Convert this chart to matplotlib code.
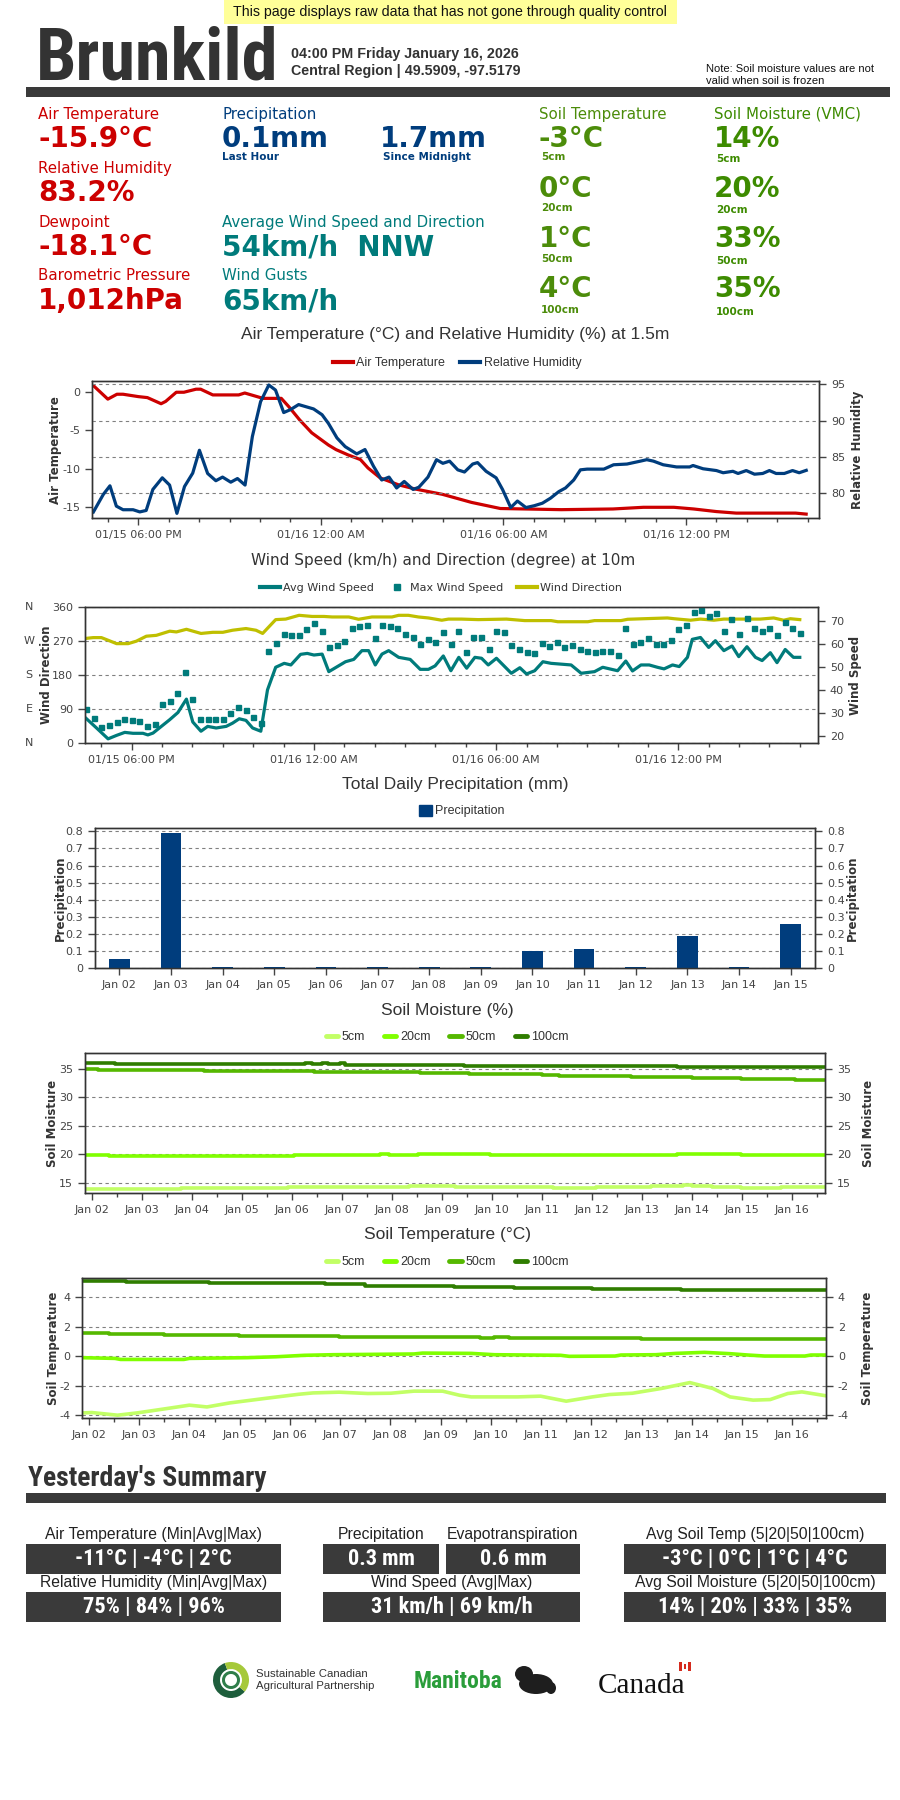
import numpy as np
import matplotlib
matplotlib.use("Agg")
import matplotlib.pyplot as plt
from matplotlib import font_manager
from matplotlib.lines import Line2D
from matplotlib.patches import Rectangle, Wedge, Ellipse, Patch

# ---------------- station readings (top panel) ----------------
station = "Brunkild"
stamp = "04:00 PM Friday January 16, 2026"
region = "Central Region | 49.5909, -97.5179"
banner = "This page displays raw data that has not gone through quality control"
note = "Note: Soil moisture values are not\nvalid when soil is frozen"

air_labels = ["Air Temperature", "Relative Humidity", "Dewpoint", "Barometric Pressure"]
air_values = ["-15.9°C", "83.2%", "-18.1°C", "1,012hPa"]
precip_now = ["0.1mm", "1.7mm"]
precip_now_labels = ["Last Hour", "Since Midnight"]
wind_labels = ["Average Wind Speed and Direction", "Wind Gusts"]
wind_values = ["54km/h  NNW", "65km/h"]
depths = ["5cm", "20cm", "50cm", "100cm"]
soil_temp_now = ["-3°C", "0°C", "1°C", "4°C"]
soil_moist_now = ["14%", "20%", "33%", "35%"]

# ---------------- 24h series (hours since Jan 15 00:00) ----------------
time_ticks = [18, 24, 30, 36]
time_labels = ["01/15 06:00 PM", "01/16 12:00 AM", "01/16 06:00 AM", "01/16 12:00 PM"]

temp_t = [16.5, 17.0, 17.3, 17.5, 18.0, 18.3, 18.75, 18.9, 19.25, 19.5, 19.9, 20.05, 20.45,
          21.3, 21.5, 22.1, 22.7, 22.95, 23.3, 23.7, 24.25, 24.5, 24.9, 25.3, 25.55, 25.95,
          26.55, 27.1, 27.55, 28.0, 28.95, 29.9, 31.9, 33.6, 34.6, 35.6, 36.25, 37.0, 37.65,
          39.6, 40.0]
temp_v = [0.96, -0.9, -0.26, -0.26, -0.57, -0.7, -1.5, -1.2, 0.0, 0.0, 0.4, 0.4, -0.35,
          -0.35, -0.1, -0.8, -0.8, -1.9, -3.6, -5.3, -6.9, -7.5, -8.2, -8.8, -9.9, -11.2,
          -12.1, -12.65, -13.0, -13.35, -14.4, -15.2, -15.35, -15.26, -15.04, -15.04, -15.26,
          -15.6, -15.8, -15.8, -15.95]

rh_t = [16.5, 16.85, 17.07, 17.28, 17.5, 17.83, 18.05, 18.26, 18.48, 18.79, 19.03, 19.27,
        19.52, 19.79, 20.01, 20.28, 20.55, 20.77, 21.04, 21.26, 21.51, 21.75, 22.02, 22.29,
        22.51, 22.78, 23.0, 23.27, 23.76, 24.04, 24.25, 24.53, 24.8, 25.18, 25.45, 25.73,
        26.0, 26.24, 26.49, 26.74, 27.03, 27.22, 27.52, 27.8, 28.01, 28.23, 28.5, 28.72,
        28.99, 29.15, 29.43, 29.76, 29.97, 30.24, 30.46, 30.74, 31.01, 31.28, 31.55, 31.82,
        32.04, 32.31, 32.53, 32.75, 33.3, 33.62, 34.06, 34.5, 34.71, 34.93, 35.25, 35.69,
        36.12, 36.23, 36.56, 37.0, 37.22, 37.54, 37.71, 37.98, 38.25, 38.52, 38.74, 38.96,
        39.23, 39.5, 39.72, 40.0]
rh_v = [77.2, 79.8, 81.0, 78.2, 77.7, 77.7, 77.4, 77.6, 80.5, 82.1, 81.1, 77.2,
        80.9, 82.75, 85.9, 82.7, 81.7, 82.2, 81.5, 82.0, 81.1, 87.8, 92.6, 94.9,
        94.2, 91.1, 91.5, 92.2, 91.6, 90.8, 89.6, 87.6, 86.4, 85.4, 86.0, 83.7,
        81.8, 82.2, 80.7, 81.6, 80.5, 80.8, 82.2, 84.6, 84.1, 84.4, 83.2, 82.9,
        84.0, 84.2, 83.0, 82.1, 80.5, 78.0, 78.9, 78.0, 78.25, 78.6, 79.3, 80.2,
        80.7, 81.8, 83.2, 83.3, 83.3, 83.9, 84.0, 84.4, 84.6, 84.4, 83.9, 83.6,
        83.6, 83.8, 83.35, 83.1, 82.8, 83.0, 82.7, 83.1, 82.6, 82.7, 83.1, 82.7,
        82.7, 83.1, 82.8, 83.2]

wdir_t = [16.46, 16.73, 17.0, 17.22, 17.5, 17.88, 18.15, 18.48, 18.81, 19.25, 19.47, 19.8,
          20.28, 20.67, 21.0, 21.32, 21.76, 22.09, 22.31, 22.74, 23.07, 23.51, 23.94, 24.33,
          24.6, 25.15, 25.47, 25.91, 26.57, 26.79, 27.11, 27.44, 27.77, 28.21, 28.43, 28.86,
          29.41, 30.34, 30.94, 31.81, 32.03, 33.02, 33.24, 34.11, 34.33, 34.88, 35.64, 35.86,
          36.4, 36.73, 37.17, 37.5, 38.7, 39.14, 39.47, 39.69, 40.0]
wdir_v = [276.6, 279, 279, 272, 263, 263, 269.5, 282.7, 285, 296, 294, 301,
          290, 293, 293, 298.5, 303, 298.5, 290, 326.6, 328, 338, 335, 335,
          333.6, 333.6, 327.5, 333.6, 333.6, 338, 338, 333.6, 331, 325, 328, 328,
          326.6, 328, 324, 324, 321, 321, 324, 324, 327.5, 329, 331, 329,
          325, 328, 325, 328, 328, 331, 325, 329, 326.6]

wavg_t = [16.46, 16.84, 17.22, 17.5, 17.77, 18.04, 18.37, 18.53, 18.7, 19.25, 19.52, 19.8,
          20.01, 20.28, 20.5, 20.78, 21.11, 21.32, 21.54, 21.76, 21.98, 22.25, 22.47, 22.74,
          23.02, 23.24, 23.56, 23.78, 24.0, 24.27, 24.49, 25.04, 25.31, 25.58, 25.8, 26.02,
          26.24, 26.46, 26.79, 27.17, 27.5, 27.77, 27.99, 28.26, 28.51, 28.77, 29.03, 29.3,
          29.52, 29.74, 30.01, 30.5, 30.78, 31.0, 31.27, 31.54, 31.81, 32.47, 32.8, 33.24,
          33.51, 34.0, 34.27, 34.49, 34.77, 35.04, 35.31, 35.53, 35.81, 36.03, 36.3, 36.46,
          36.73, 37.0, 37.22, 37.5, 37.77, 37.99, 38.26, 38.54, 38.76, 39.03, 39.25, 39.52,
          39.79, 40.0]
wavg_v = [28.2, 23.6, 18.9, 20.4, 21.7, 21.3, 21.3, 20.6, 21.4, 27.2, 30.3, 36.1,
          26.2, 22.2, 24.3, 23.6, 24.3, 25.7, 27.6, 26.9, 23.6, 22.2, 40.1, 49.9,
          51.6, 50.9, 55.5, 55.9, 55.2, 55.6, 48.0, 52.3, 53.3, 57.1, 57.1, 50.9,
          55.6, 57.1, 54.2, 53.3, 49.0, 49.0, 50.5, 54.8, 48.4, 54.2, 49.5, 54.2,
          53.8, 50.9, 53.8, 47.3, 49.7, 47.0, 48.4, 52.3, 51.6, 50.9, 47.3, 48.0,
          49.9, 48.4, 52.6, 48.3, 50.9, 50.9, 49.9, 49.2, 50.9, 50.2, 54.2, 62.0,
          62.8, 58.5, 61.4, 57.1, 59.1, 54.5, 58.8, 54.2, 52.8, 56.2, 51.9, 57.6,
          54.2, 54.2]

# max wind, one reading every 15 minutes from 16:30 Jan 15 to 16:00 Jan 16
wmax_t = list(np.arange(16.5, 40.01, 0.25))
wmax_v = [31.8, 27.9, 24.0, 24.7, 26.2, 27.5, 26.9, 26.6, 24.3, 25.3, 33.9, 35.1, 38.7,
          47.7, 36.1, 27.5, 27.5, 27.5, 27.5, 30.1, 32.6, 31.4, 28.3, 25.7, 56.9, 60.2,
          64.3, 63.7, 63.7, 66.3, 68.9, 65.8, 58.5, 59.4, 61.2, 67.1, 67.6, 68.4, 62.4,
          68.0, 67.6, 67.1, 64.5, 63.2, 59.8,
          62.0, 60.8, 65.1, 59.8, 65.5, 56.4, 62.8, 63.2, 57.6, 65.8,
          65.1, 59.4, 57.6, 56.4, 55.9, 60.2, 58.9, 60.7, 58.5, 59.4,
          57.6, 56.8, 56.4, 56.8, 56.8, 55.1, 66.7, 59.8, 60.7, 62.4,
          59.8, 59.8, 61.5, 66.3, 68.4, 74.0, 74.5, 72.3, 73.2, 65.8,
          70.6, 64.5, 71.4, 67.1, 65.8, 67.1, 63.7, 69.3, 66.7, 64.9]

# ---------------- daily precipitation ----------------
precip_days = ["Jan 02", "Jan 03", "Jan 04", "Jan 05", "Jan 06", "Jan 07", "Jan 08",
               "Jan 09", "Jan 10", "Jan 11", "Jan 12", "Jan 13", "Jan 14", "Jan 15"]
precip_mm = [0.053, 0.79, 0.006, 0.006, 0.006, 0.006, 0.006, 0.006, 0.10, 0.11, 0.006,
             0.185, 0.006, 0.256]

# ---------------- soil series (days since Jan 02 00:00) ----------------
soil_days = ["Jan 02", "Jan 03", "Jan 04", "Jan 05", "Jan 06", "Jan 07", "Jan 08", "Jan 09",
             "Jan 10", "Jan 11", "Jan 12", "Jan 13", "Jan 14", "Jan 15", "Jan 16"]

sm5_t = [-0.137, 1.79, 3.92, 6.34, 7.27, 9.23, 10.09, 11.19, 11.82, 12.0, 12.4, 12.98, 13.78, 14.67]
sm5_v = [13.95, 14.13, 14.3, 14.48, 14.3, 14.13, 14.3, 14.42, 14.6, 14.48, 14.3, 14.13, 14.3, 14.3]
sm20_t = [-0.137, 0.35, 4.04, 5.77, 5.94, 6.52, 7.96, 11.71, 12.98, 14.67]
sm20_v = [19.94, 19.77, 19.94, 20.12, 19.94, 20.12, 19.94, 20.12, 19.94, 19.94]
sm50_t = [-0.137, 0.12, 2.25, 4.44, 6.11, 6.57, 7.55, 9.0, 9.34, 10.78, 12.0, 12.98, 14.07, 14.67]
sm50_v = [35.0, 34.77, 34.59, 34.42, 34.36, 34.24, 34.07, 33.9, 33.72, 33.54, 33.37, 33.19, 33.02, 33.02]
sm100_t = [-0.137, 0.46, 4.27, 4.4, 4.6, 4.73, 4.96, 5.07, 7.44, 11.7, 14.67]
sm100_v = [36.0, 35.8, 35.95, 35.8, 35.95, 35.8, 35.95, 35.7, 35.5, 35.3, 35.3]

st5_t = [-0.08, 0.06, 0.57, 0.97, 1.55, 2.0, 2.35, 2.8, 3.49, 4.18, 4.46, 4.98, 5.55, 6.01,
         6.47, 7.04, 7.38, 7.61, 8.53, 8.99, 9.5, 10.02, 10.36, 10.82, 11.39, 11.96, 12.42,
         12.76, 13.22, 13.56, 13.91, 14.19, 14.68]
st5_v = [-3.85, -3.83, -4.01, -3.85, -3.56, -3.33, -3.45, -3.18, -2.88, -2.59, -2.5, -2.45,
         -2.54, -2.52, -2.38, -2.38, -2.66, -2.77, -2.77, -2.72, -3.06, -2.77, -2.61, -2.52,
         -2.2, -1.8, -2.2, -2.77, -2.99, -2.95, -2.54, -2.43, -2.7]
st20_t = [-0.14, 0.52, 0.63, 1.89, 2.0, 3.15, 3.72, 4.29, 4.86, 6.47, 6.64, 7.61, 8.07, 9.39,
          9.56, 10.47, 10.59, 11.28, 11.68, 12.25, 12.76, 13.11, 13.45, 14.25, 14.37, 14.68]
st20_v = [-0.11, -0.16, -0.23, -0.23, -0.16, -0.11, -0.05, 0.05, 0.09, 0.14, 0.2, 0.18, 0.09,
          0.05, -0.02, 0.0, 0.07, 0.09, 0.18, 0.25, 0.16, 0.07, 0.0, 0.0, 0.07, 0.07]
st50_t = [-0.137, 0.4, 1.49, 2.98, 3.95, 4.98, 7.78, 8.07, 8.36, 10.99, 14.68]
st50_v = [1.54, 1.47, 1.4, 1.36, 1.33, 1.29, 1.22, 1.29, 1.22, 1.15, 1.15]
st100_t = [-0.137, 0.74, 2.4, 3.95, 4.69, 5.49, 7.1, 7.27, 8.47, 10.02, 11.79, 14.68]
st100_v = [5.11, 5.04, 4.97, 4.93, 4.86, 4.77, 4.72, 4.7, 4.63, 4.56, 4.5, 4.5]

# ---------------- yesterday's summary ----------------
summary_labels = ["Air Temperature (Min|Avg|Max)", "Precipitation", "Evapotranspiration",
                  "Avg Soil Temp (5|20|50|100cm)", "Relative Humidity (Min|Avg|Max)",
                  "Wind Speed (Avg|Max)", "Avg Soil Moisture (5|20|50|100cm)"]
summary_values = ["-11°C | -4°C | 2°C", "0.3 mm", "0.6 mm", "-3°C | 0°C | 1°C | 4°C",
                  "75% | 84% | 96%", "31 km/h | 69 km/h", "14% | 20% | 33% | 35%"]

# ---------------- fonts / colours ----------------
have = {f.name for f in font_manager.fontManager.ttflist}


def pick(*names):
    for n in names:
        if n in have:
            return n
    return "DejaVu Sans"


NARROW = pick("Liberation Sans Narrow", "Roboto Condensed", "DejaVu Sans Condensed", "Liberation Sans")
SANS = pick("Liberation Sans", "Arimo", "DejaVu Sans")
VERD = "DejaVu Sans"
SERIF = pick("Liberation Serif", "DejaVu Serif")

plt.rcParams["font.family"] = [VERD]
plt.rcParams["axes.unicode_minus"] = False

RED = "#cc0000"
NAVY = "#003d7d"
TEAL = "#007b7b"
GREEN_T = "#4c8c0a"
GREEN_M = "#3d8b00"
DARK = "#3a3a3a"
YEL = "#bfbf00"
SOIL_COLS = ["#c2ff66", "#80ff00", "#55b800", "#2f7d00"]
GRID = dict(color="#808080", ls=(0, (3, 3)), lw=0.8)

W, H = 900, 1800
fig = plt.figure(figsize=(W / 100, H / 100), dpi=100)

# background layer in pixel units for the page furniture
bg = fig.add_axes([0, 0, 1, 1])
bg.set_xlim(0, W)
bg.set_ylim(H, 0)
bg.axis("off")


def box(x0, y0, x1, y1, color):
    bg.add_patch(Rectangle((x0, y0), x1 - x0, y1 - y0, color=color, lw=0))


def axes_px(left, top, right, bottom):
    return fig.add_axes([left / W, 1 - bottom / H, (right - left) / W, (bottom - top) / H])


def dress(ax, size=8):
    for sp in ax.spines.values():
        sp.set_color("#333333")
        sp.set_linewidth(1.0)
    ax.tick_params(which="both", direction="out", colors="#444444", labelsize=size, width=1)
    ax.tick_params(which="major", length=5)
    ax.tick_params(which="minor", length=3)


def ylab(x, y, s):
    bg.text(x, y, s, rotation=90, ha="center", va="center", fontsize=8.5,
            fontweight="bold", color="#333333", family=VERD)


# ---------------- header ----------------
box(224, 0, 677, 24, "#ffff99")
bg.text(450, 12, banner, ha="center", va="center", fontsize=10.2, family=SANS, color="#111111")
bg.text(36, 79, station, fontsize=52, fontweight="bold", family=NARROW, color="#333333",
        va="baseline")
bg.text(291, 54, stamp, fontsize=10.3, fontweight="bold", family=SANS, color="#333333", va="center")
bg.text(291, 71, region, fontsize=10.3, fontweight="bold", family=SANS, color="#333333", va="center")
bg.text(706, 75, note, fontsize=8, family=SANS, color="#111111", va="center", linespacing=1.25)
box(26, 87, 890, 97, DARK)

# ---------------- current readings ----------------
lab_kw = dict(fontsize=10.8, family=VERD, va="center")
val_kw = dict(fontsize=20, family=VERD, fontweight="bold", va="center")
sub_kw = dict(fontsize=7.5, family=VERD, fontweight="bold", va="center")

for i, (lab, val) in enumerate(zip(air_labels, air_values)):
    bg.text(38, 114 + 54 * i, lab, color=RED, **lab_kw)
    bg.text(38, 139 + 54 * i, val, color=RED, **val_kw)

bg.text(222, 114, "Precipitation", color=NAVY, **lab_kw)
for x, val, lab in zip([222, 380], precip_now, precip_now_labels):
    bg.text(x, 139, val, color=NAVY, **val_kw)
    bg.text(x + (0 if x == 222 else 3), 157, lab, color=NAVY, **sub_kw)
for i, (lab, val) in enumerate(zip(wind_labels, wind_values)):
    bg.text(222, 222 + 54 * i, lab, color=TEAL, **lab_kw)
    bg.text(222, 247 + 55 * i, val, color=TEAL, **val_kw)

bg.text(539, 114, "Soil Temperature", color=GREEN_T, **lab_kw)
bg.text(714, 114, "Soil Moisture (VMC)", color=GREEN_M, **lab_kw)
for i, d in enumerate(depths):
    bg.text(539, 139 + 50 * i, soil_temp_now[i], color=GREEN_T, **val_kw)
    bg.text(541, 157 + 51 * i, d, color=GREEN_T, **sub_kw)
    bg.text(714, 139 + 50 * i, soil_moist_now[i], color=GREEN_M, **val_kw)
    bg.text(716, 159 + 51 * i, d, color=GREEN_M, **sub_kw)


def chart_title(y, s, x=455, fam=SANS, size=12.5):
    bg.text(x, y, s, ha="center", va="center", fontsize=size, family=fam, color="#333333")


def time_axis(ax, lo, hi):
    ax.set_xlim(lo, hi)
    ax.set_xticks(time_ticks)
    ax.set_xticklabels(time_labels)
    ax.set_xticks(range(17, 41), minor=True)
    ax.tick_params(axis="x", which="major", length=6)


# ---------------- chart 1: air temperature & RH ----------------
chart_title(335, "Air Temperature (°C) and Relative Humidity (%) at 1.5m")
ax1 = axes_px(92, 381, 819, 518)
ax1r = ax1.twinx()
ax1.plot(temp_t, temp_v, color=RED, lw=2.3, solid_capstyle="butt")
ax1r.plot(rh_t, rh_v, color=NAVY, lw=2.3, solid_capstyle="butt")
ax1.set_ylim(-16.44, 1.47)
ax1.set_yticks([0, -5, -10, -15])
ax1r.set_ylim(76.56, 95.45)
ax1r.set_yticks([80, 85, 90, 95])
ax1r.grid(axis="y", **GRID)
time_axis(ax1, 16.48, 40.37)
dress(ax1)
dress(ax1r)
ylab(56, 450, "Air Temperature")
ylab(857, 450, "Relative Humidity")
fig.legend([Line2D([], [], color=RED, lw=3), Line2D([], [], color=NAVY, lw=3)],
           ["Air Temperature", "Relative Humidity"], loc="center",
           bbox_to_anchor=(457 / W, 1 - 363 / H), ncol=2, frameon=False,
           prop=dict(family=SANS, size=9), labelcolor="#333333",
           handlelength=1.6, handletextpad=0.3, columnspacing=1.2)

# ---------------- chart 2: wind ----------------
chart_title(560, "Wind Speed (km/h) and Direction (degree) at 10m", x=443, fam=VERD, size=11)
ax2 = axes_px(85, 607, 818, 743)
ax2r = ax2.twinx()
ax2.plot(wdir_t, wdir_v, color=YEL, lw=2.3)
ax2r.plot(wavg_t, wavg_v, color=TEAL, lw=2.3)
ax2r.plot(wmax_t, wmax_v, ls="none", marker="s", ms=3.6, color=TEAL, mec=TEAL)
ax2.set_ylim(0, 360)
ax2.set_yticks([0, 90, 180, 270, 360])
ax2.grid(axis="y", **GRID)
ax2r.set_ylim(17.1, 76.0)
ax2r.set_yticks([20, 30, 40, 50, 60, 70])
time_axis(ax2, 16.46, 40.6)
dress(ax2)
dress(ax2r)
for deg, c in zip([0, 90, 180, 270, 360], ["N", "E", "S", "W", "N"]):
    ax2.text(-0.076, deg, c, transform=ax2.get_yaxis_transform(), ha="center", va="center",
             fontsize=8, color="#444444")
ylab(47, 675, "Wind Direction")
ylab(855, 675, "Wind Speed")
fig.legend([Line2D([], [], color=TEAL, lw=3),
            Line2D([], [], ls="none", marker="s", ms=4, color=TEAL),
            Line2D([], [], color=YEL, lw=3)],
           ["Avg Wind Speed", "Max Wind Speed", "Wind Direction"], loc="center",
           bbox_to_anchor=(441 / W, 1 - 588 / H), ncol=3, frameon=False,
           prop=dict(family=VERD, size=8), labelcolor="#333333",
           handlelength=1.8, handletextpad=0.3, columnspacing=1.2)

# ---------------- chart 3: daily precipitation ----------------
chart_title(785, "Total Daily Precipitation (mm)", x=455)
ax3 = axes_px(95, 828, 815, 968)
ax3.bar(range(len(precip_days)), precip_mm, width=0.4, color=NAVY, zorder=3)
ax3.set_xlim(-0.47, 13.47)
ax3.set_xticks(range(len(precip_days)))
ax3.set_xticklabels(precip_days)
p_ticks = [0, 0.1, 0.2, 0.3, 0.4, 0.5, 0.6, 0.7, 0.8]
p_labels = ["0", "0.1", "0.2", "0.3", "0.4", "0.5", "0.6", "0.7", "0.8"]
ax3.set_ylim(0, 0.82)
ax3.set_yticks(p_ticks)
ax3.set_yticklabels(p_labels)
ax3.grid(axis="y", **GRID)
ax3.set_axisbelow(True)
ax3r = ax3.twinx()
ax3r.set_ylim(0, 0.82)
ax3r.set_yticks(p_ticks)
ax3r.set_yticklabels(p_labels)
dress(ax3)
dress(ax3r)
ylab(60, 898, "Precipitation")
ylab(852, 898, "Precipitation")
fig.legend([Patch(color=NAVY)], ["Precipitation"], loc="center",
           bbox_to_anchor=(462 / W, 1 - 811 / H), frameon=False,
           prop=dict(family=SANS, size=9), labelcolor="#333333",
           handlelength=1.0, handleheight=1.0, handletextpad=0.3)


def soil_chart(top, bottom, left, right, title, series, ylim, yticks, name, steps):
    chart_title(top - 43, title, x=447)
    ax = axes_px(left, top, right, bottom)
    for (t, v), col, st in zip(series, SOIL_COLS, steps):
        ax.plot(t, v, color=col, lw=2.6, drawstyle="steps-post" if st else "default")
    ax.set_xlim(-0.137, 14.67)
    ax.set_xticks(range(len(soil_days)))
    ax.set_xticklabels(soil_days)
    ax.set_xticks(np.arange(0.5, 14.6, 1.0), minor=True)
    ax.set_ylim(*ylim)
    ax.set_yticks(yticks)
    ax.grid(axis="y", **GRID)
    ax.set_axisbelow(True)
    axr = ax.twinx()
    axr.set_ylim(*ylim)
    axr.set_yticks(yticks)
    dress(ax)
    dress(axr)
    mid = (top + bottom) / 2
    ylab(53, mid, name)
    ylab(868, mid, name)
    fig.legend([Line2D([], [], color=c, lw=3.5, solid_capstyle="round") for c in SOIL_COLS],
               depths, loc="center", bbox_to_anchor=(447 / W, 1 - (top - 16) / H), ncol=4,
               frameon=False, prop=dict(family=SANS, size=9), labelcolor="#333333",
               handlelength=1.0, handletextpad=0.3, columnspacing=1.5)
    return ax


soil_chart(1053, 1193, 85, 825, "Soil Moisture (%)",
           [(sm5_t, sm5_v), (sm20_t, sm20_v), (sm50_t, sm50_v), (sm100_t, sm100_v)],
           (13.25, 37.74), [15, 20, 25, 30, 35], "Soil Moisture", [True, True, True, True])
soil_chart(1278, 1418, 82, 826, "Soil Temperature (°C)",
           [(st5_t, st5_v), (st20_t, st20_v), (st50_t, st50_v), (st100_t, st100_v)],
           (-4.2, 5.29), [-4, -2, 0, 2, 4], "Soil Temperature", [False, False, True, True])

# ---------------- yesterday's summary ----------------
bg.text(28, 1478, "Yesterday's Summary", fontsize=20, fontweight="bold", family=NARROW,
        color="#333333", va="center")
box(26, 1493, 886, 1503, DARK)

cells = [(26, 281, 1), (323, 439, 1), (446, 580, 1), (624, 886, 1),
         (26, 281, 2), (323, 580, 2), (624, 886, 2)]
for (x0, x1, row), lab, val in zip(cells, summary_labels, summary_values):
    ly = 1535 if row == 1 else 1583
    y0 = 1544 if row == 1 else 1592
    bg.text((x0 + x1) / 2, ly, lab, ha="center", va="center", fontsize=11.3, family=SANS,
            color="#222222")
    box(x0, y0, x1, y0 + 30, DARK)
    bg.text((x0 + x1) / 2, y0 + 15, val, ha="center", va="center", fontsize=16,
            fontweight="bold", family=NARROW, color="white")

# ---------------- partner logos ----------------
bg.add_patch(Wedge((231, 1680), 18, 40, 250, width=7, color="#1e5e3c", lw=0))
bg.add_patch(Wedge((231, 1680), 18, 250, 400, width=7, color="#a6c93a", lw=0))
bg.add_patch(Wedge((231, 1680), 9, 0, 360, width=3, color="#2f7d4a", lw=0))
bg.text(256, 1680, "Sustainable Canadian\nAgricultural Partnership", fontsize=8.2,
        family=SANS, color="#333333", va="center", linespacing=1.3)
bg.text(414, 1682, "Manitoba", fontsize=17, fontweight="bold", family=NARROW,
        color="#2a9d3a", va="center")
bg.add_patch(Ellipse((536, 1684), 34, 20, color="#1e1e1e", lw=0))
bg.add_patch(Ellipse((524, 1674), 18, 16, color="#1e1e1e", lw=0))
bg.add_patch(Ellipse((551, 1688), 10, 12, color="#1e1e1e", lw=0))
bg.text(598, 1686, "Canada", fontsize=21, family=SERIF, color="#111111", va="center")
box(679, 1662, 691, 1671, "#d52b1e")
box(682, 1662, 688, 1671, "white")
bg.add_patch(Rectangle((684, 1664), 2, 5, color="#d52b1e", lw=0))

fig.savefig("out.png", dpi=100)
